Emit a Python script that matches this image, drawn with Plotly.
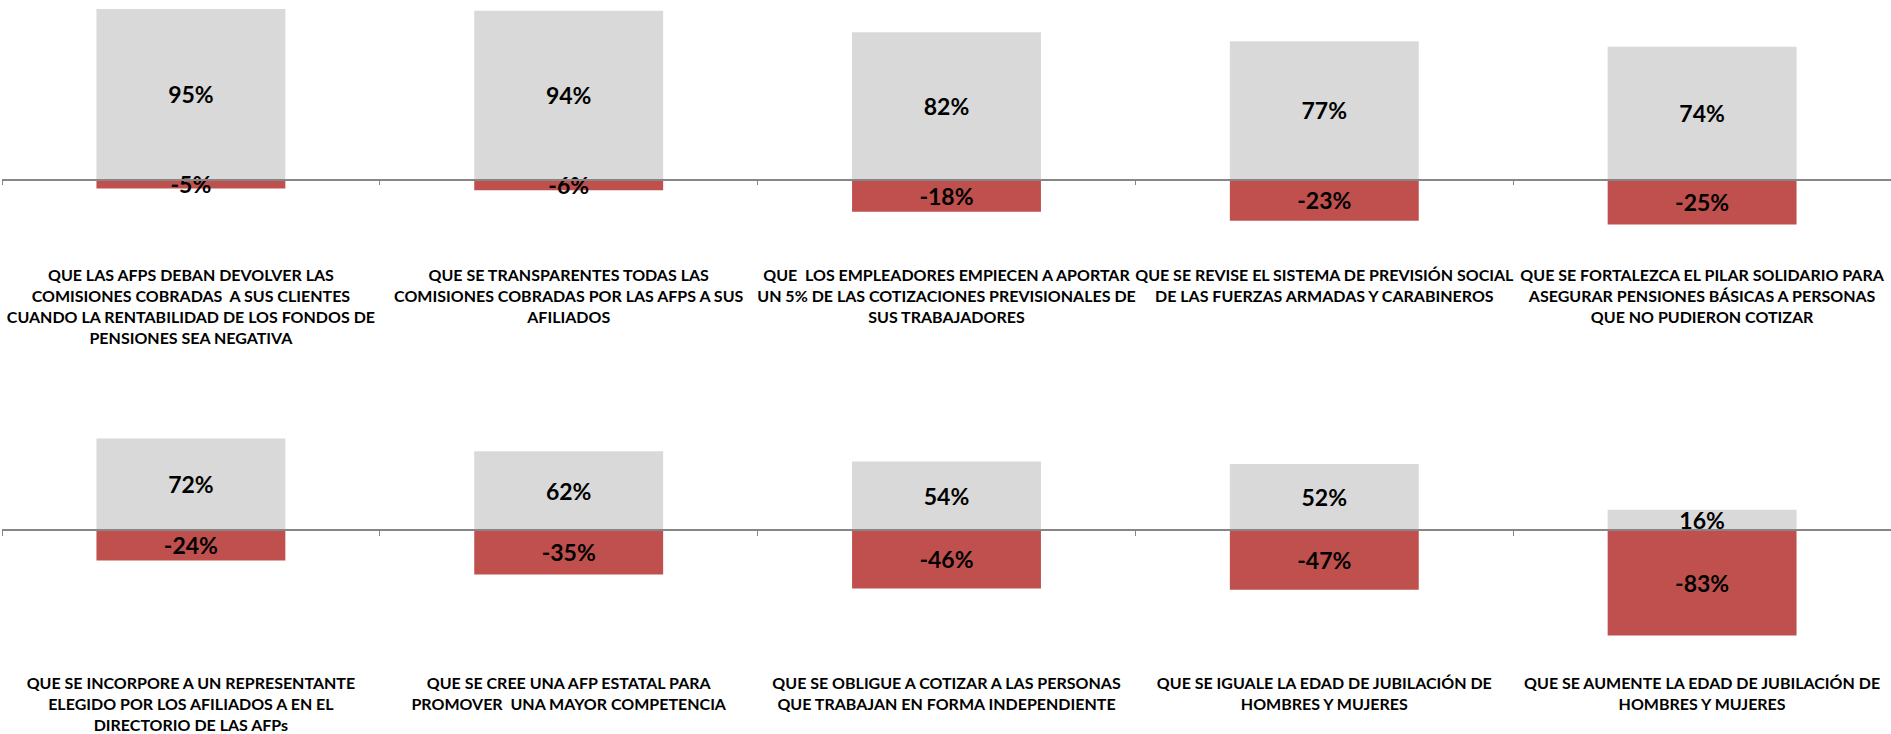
import plotly.graph_objects as go

# ---- data ----
top_categories = [
    "QUE LAS AFPS DEBAN DEVOLVER LAS<br>COMISIONES COBRADAS  A SUS CLIENTES<br>CUANDO LA RENTABILIDAD DE LOS FONDOS DE<br>PENSIONES SEA NEGATIVA",
    "QUE SE TRANSPARENTES TODAS LAS<br>COMISIONES COBRADAS POR LAS AFPS A SUS<br>AFILIADOS",
    "QUE  LOS EMPLEADORES EMPIECEN A APORTAR<br>UN 5% DE LAS COTIZACIONES PREVISIONALES DE<br>SUS TRABAJADORES",
    "QUE SE REVISE EL SISTEMA DE PREVISIÓN SOCIAL<br>DE LAS FUERZAS ARMADAS Y CARABINEROS",
    "QUE SE FORTALEZCA EL PILAR SOLIDARIO PARA<br>ASEGURAR PENSIONES BÁSICAS A PERSONAS<br>QUE NO PUDIERON COTIZAR",
]
top_favor = [95, 94, 82, 77, 74]
top_contra = [-5, -6, -18, -23, -25]

bottom_categories = [
    "QUE SE INCORPORE A UN REPRESENTANTE<br>ELEGIDO POR LOS AFILIADOS A EN EL<br>DIRECTORIO DE LAS AFPs",
    "QUE SE CREE UNA AFP ESTATAL PARA<br>PROMOVER  UNA MAYOR COMPETENCIA",
    "QUE SE OBLIGUE A COTIZAR A LAS PERSONAS<br>QUE TRABAJAN EN FORMA INDEPENDIENTE",
    "QUE SE IGUALE LA EDAD DE JUBILACIÓN DE<br>HOMBRES Y MUJERES",
    "QUE SE AUMENTE LA EDAD DE JUBILACIÓN DE<br>HOMBRES Y MUJERES",
]
bottom_favor = [72, 62, 54, 52, 16]
bottom_contra = [-24, -35, -46, -47, -83]

# ---- style ----
W, H = 1891, 734
FONT = "Lato, sans-serif"
GREY = "#D9D9D9"
RED = "#C0504D"
AXIS = "#868686"

top_range = [-46.5, 100]
top_dom = [1 - 263 / H, 1.0]
bot_range = [-103, 100]
bot_dom = [1 - 661 / H, 1 - 403 / H]
x_dom = [2 / W, 1.0]


def zero_pos(dom, rng):
    return dom[0] + (0 - rng[0]) / (rng[1] - rng[0]) * (dom[1] - dom[0])


fig = go.Figure()


def add_panel(cats, favor, contra, xa, ya):
    for vals, col in ((favor, GREY), (contra, RED)):
        fig.add_trace(go.Bar(
            x=cats, y=vals, xaxis=xa, yaxis=ya,
            marker=dict(color=col, line=dict(width=0)),
            texttemplate="<b>%{y:.0f}%</b>",
            textposition="inside", insidetextanchor="middle",
            textfont=dict(family=FONT, size=23, color="black"),
            showlegend=False, hoverinfo="skip",
        ))


add_panel(top_categories, top_favor, top_contra, "x", "y")
add_panel(bottom_categories, bottom_favor, bottom_contra, "x2", "y2")

xaxis_common = dict(
    type="category", domain=x_dom, anchor="free", automargin=False,
    showline=True, linecolor=AXIS, linewidth=1.5,
    ticks="outside", tickson="boundaries", ticklen=5, tickcolor=AXIS, tickwidth=1,
    tickangle=0, showgrid=False, zeroline=False,
    tickfont=dict(family=FONT, size=16, color="black"),
    fixedrange=True,
)
yaxis_common = dict(visible=False, showgrid=False, zeroline=False,
                    fixedrange=True, automargin=False)

fig.update_layout(
    width=W, height=H,
    margin=dict(l=0, r=0, t=0, b=0, autoexpand=False),
    paper_bgcolor="white", plot_bgcolor="white",
    barmode="relative", bargap=0.5,
    uniformtext=dict(minsize=23, mode="show"),
    xaxis=dict(**xaxis_common, position=zero_pos(top_dom, top_range),
               ticklabelstandoff=82,
               tickvals=top_categories,
               ticktext=["<b>" + c + "</b>" for c in top_categories]),
    xaxis2=dict(**xaxis_common, position=zero_pos(bot_dom, bot_range),
                ticklabelstandoff=139,
                tickvals=bottom_categories,
                ticktext=["<b>" + c + "</b>" for c in bottom_categories]),
    yaxis=dict(**yaxis_common, domain=top_dom, range=top_range),
    yaxis2=dict(**yaxis_common, domain=bot_dom, range=bot_range, anchor="x2"),
)

fig.write_html("out.html",
               config={"displayModeBar": False},
               post_script="document.body.style.margin='0px';document.body.style.overflow='hidden';")
